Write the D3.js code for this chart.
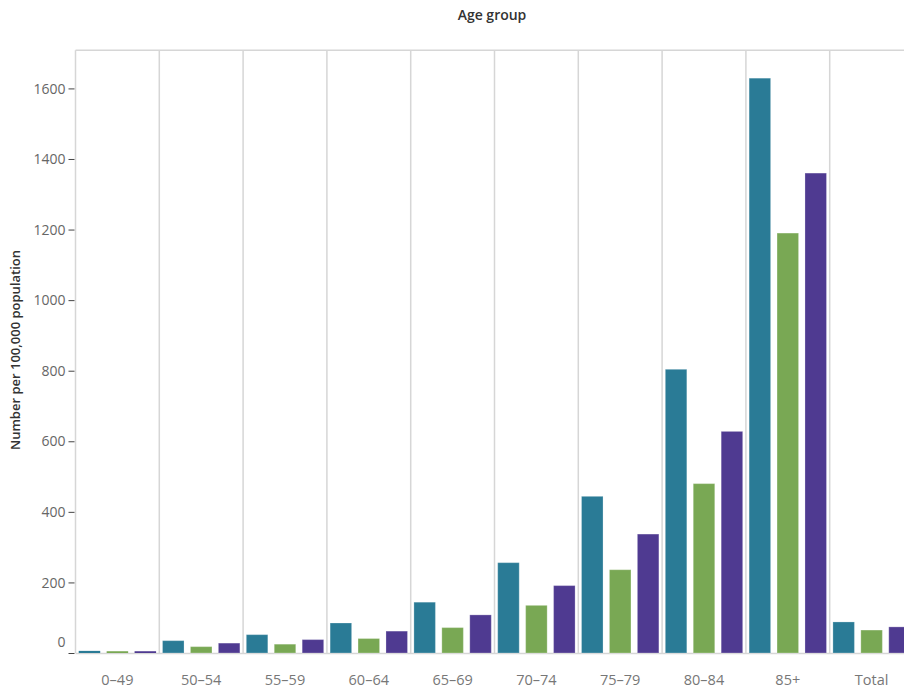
<!DOCTYPE html>
<html>
<head>
<meta charset="utf-8">
<script src="https://cdn.jsdelivr.net/npm/d3@7/dist/d3.min.js"></script>
<style>
  html, body { margin: 0; padding: 0; background: #fff; }
  svg { display: block; }
</style>
</head>
<body>
<svg id="chart" width="904" height="688"></svg>
<script>
// ---- data ----
const categories = ["0–49", "50–54", "55–59", "60–64", "65–69", "70–74", "75–79", "80–84", "85+", "Total"];
const seriesNames = ["Males", "Females", "Persons"];
const males   = [6, 35, 52, 85, 144, 256, 444, 804, 1629, 88];
const females = [5, 18, 25, 41, 72, 135, 236, 480, 1190, 65];
const persons = [5, 28, 38, 62, 108, 191, 337, 628, 1360, 74];
const yTicks = [0, 200, 400, 600, 800, 1000, 1200, 1400, 1600];
const colors = ["#2a7b96", "#79a854", "#4f3a91"];

const seriesValues = [males, females, persons];

// ---- layout ----
const svg = d3.select("#chart");
const plotLeft = 75.5, plotTop = 50.3, plotBottom = 653, colW = 83.8;
const plotRight = plotLeft + colW * categories.length;

const x0 = d3.scaleBand().domain(categories).range([plotLeft, plotRight]).padding(0);
const x1 = d3.scaleBand().domain(seriesNames).range([0, x0.bandwidth()])
  .paddingInner(0.23).paddingOuter(0.115);
const y = d3.scaleLinear().domain([0, 1708]).range([plotBottom, plotTop]);

const font = "'Open Sans', 'Noto Sans', sans-serif";

// column separators
svg.append("g").selectAll("line")
  .data(categories)
  .join("line")
  .attr("x1", d => x0(d)).attr("x2", d => x0(d))
  .attr("y1", plotTop).attr("y2", plotBottom)
  .attr("stroke", "#d6d6d6").attr("stroke-width", 1.5);

// top border
svg.append("line")
  .attr("x1", plotLeft).attr("x2", plotRight)
  .attr("y1", plotTop).attr("y2", plotTop)
  .attr("stroke", "#d6d6d6").attr("stroke-width", 1.5);

// baseline
svg.append("line")
  .attr("x1", plotLeft).attr("x2", plotRight)
  .attr("y1", plotBottom + 0.5).attr("y2", plotBottom + 0.5)
  .attr("stroke", "#d6d6d6").attr("stroke-width", 1.5);

// bars
const groups = svg.append("g").selectAll("g")
  .data(categories)
  .join("g")
  .attr("transform", d => `translate(${x0(d)},0)`);

groups.selectAll("rect")
  .data((d, i) => seriesNames.map((s, j) => ({ s, v: seriesValues[j][i], c: colors[j] })))
  .join("rect")
  .attr("x", d => x1(d.s))
  .attr("width", x1.bandwidth())
  .attr("y", d => y(d.v))
  .attr("height", d => y(0) - y(d.v))
  .attr("fill", d => d.c)
  .attr("stroke", d => y(0) - y(d.v) > 4 ? "rgba(255,255,255,0.25)" : "none")
  .attr("stroke-width", 1);

// y axis
const yAxis = svg.append("g")
  .attr("transform", `translate(${plotLeft - 1},0)`)
  .call(d3.axisLeft(y).tickValues(yTicks).tickSize(6).tickPadding(3).tickFormat(d3.format("d")));
yAxis.select(".domain").remove();
yAxis.selectAll(".tick line").attr("stroke", "#444");
yAxis.selectAll(".tick text")
  .attr("fill", "#666")
  .style("font-family", font)
  .style("font-size", "14px")
  .attr("dy", d => d === 0 ? "-0.45em" : "0.33em");

// x labels
svg.append("g").selectAll("text")
  .data(categories)
  .join("text")
  .attr("x", d => x0(d) + x0.bandwidth() / 2)
  .attr("y", 685)
  .attr("text-anchor", "middle")
  .attr("fill", "#777")
  .style("font-family", font)
  .style("font-size", "14.5px")
  .text(d => d);

// title
svg.append("text")
  .attr("x", 492)
  .attr("y", 20)
  .attr("text-anchor", "middle")
  .attr("fill", "#333")
  .style("font-family", font)
  .style("font-weight", "600")
  .style("font-size", "14px")
  .text("Age group");

// y title
svg.append("text")
  .attr("transform", "translate(20,350) rotate(-90)")
  .attr("text-anchor", "middle")
  .attr("fill", "#333")
  .style("font-family", font)
  .style("font-weight", "600")
  .style("font-size", "13px")
  .text("Number per 100,000 population");
</script>
</body>
</html>
